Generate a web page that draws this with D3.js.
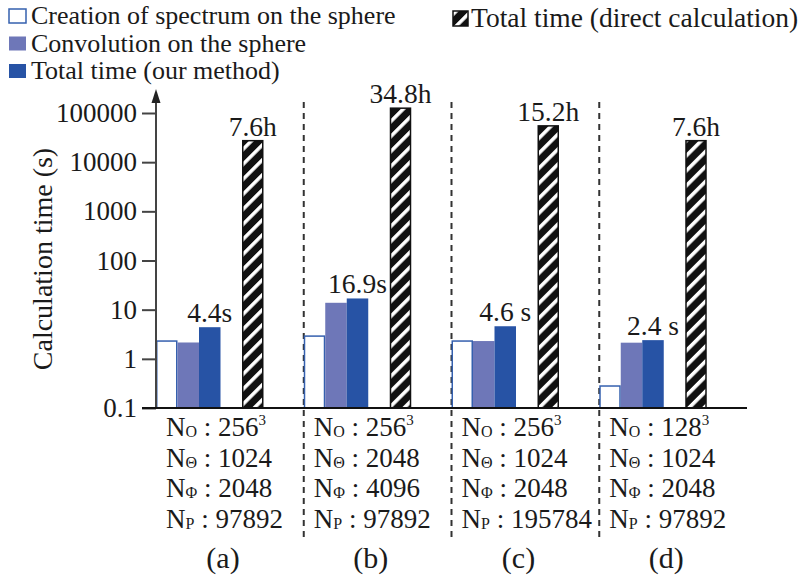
<!DOCTYPE html>
<html>
<head>
<meta charset="utf-8">
<script src="https://d3js.org/d3.v7.min.js"></script>
<style>
  body { margin: 0; background: #fff; }
  text { font-family: "Liberation Serif", "DejaVu Serif", serif; fill: #1a1a1a; }
</style>
</head>
<body>
<script>
// data
var groups = ['(a)', '(b)', '(c)', '(d)'];
var creation = [2.3, 2.9, 2.3, 0.28];
var convolution = [2.15, 13.8, 2.3, 2.13];
var totalOurs = [4.4, 16.9, 4.6, 2.4];
var totalDirect = [27360, 125280, 54720, 27360];   // seconds (7.6h, 34.8h, 15.2h, 7.6h)
var oursLabels = ['4.4s', '16.9s', '4.6 s', '2.4 s'];
var directLabels = ['7.6h', '34.8h', '15.2h', '7.6h'];
var nO = ['256', '256', '256', '128'];
var nTheta = ['1024', '2048', '1024', '1024'];
var nPhi = ['2048', '4096', '2048', '2048'];
var nP = ['97892', '97892', '195784', '97892'];
var yTicks = [0.1, 1, 10, 100, 1000, 10000, 100000];
var legendLeft = ['Creation of spectrum on the sphere', 'Convolution on the sphere', 'Total time (our method)'];
var legendRight = 'Total time (direct calculation)';

var width = 805, height = 583;
var lavender = '#6e77b8', darkBlue = '#2753a5', edgeBlue = '#3560ae';

var svg = d3.select('body').append('svg')
    .attr('width', width)
    .attr('height', height);

// hatch pattern for the direct calculation bars
var defs = svg.append('defs');
var pat = defs.append('pattern')
    .attr('id', 'hatch')
    .attr('patternUnits', 'userSpaceOnUse')
    .attr('width', 10.6)
    .attr('height', 10.6)
    .attr('patternTransform', 'rotate(45)');
pat.append('rect').attr('width', 10.6).attr('height', 10.6).attr('fill', '#111');
pat.append('rect').attr('x', 0).attr('width', 3.6).attr('height', 10.6).attr('fill', '#fff');

var y = d3.scaleLog().domain([0.1, 100000]).range([408, 113]);
var x = d3.scaleBand().domain(groups).range([156, 747]).padding(0);
var slot = d3.scaleBand().domain([0, 1, 2, 3, 4]).range([0, 107.5]).padding(0);

// dashed separators between the groups
svg.append('g').selectAll('line')
    .data(groups.slice(1)).enter()
    .append('line')
    .attr('x1', function(d) { return x(d); })
    .attr('x2', function(d) { return x(d); })
    .attr('y1', 102).attr('y2', 540)
    .attr('stroke', '#333')
    .attr('stroke-width', 2)
    .attr('stroke-dasharray', '6,5');

// bars
var series = [
    { vals: creation, idx: 0, fill: '#fff', stroke: edgeBlue },
    { vals: convolution, idx: 1, fill: lavender, stroke: 'none' },
    { vals: totalOurs, idx: 2, fill: darkBlue, stroke: 'none' },
    { vals: totalDirect, idx: 4, fill: 'url(#hatch)', stroke: '#111' }
];
series.forEach(function(s) {
    svg.append('g').selectAll('rect')
        .data(s.vals).enter()
        .append('rect')
        .attr('x', function(d, i) { return x(groups[i]) + slot(s.idx) + (s.stroke !== 'none' ? 0.75 : 0); })
        .attr('y', function(d) { return y(d); })
        .attr('width', slot.bandwidth() - (s.stroke !== 'none' ? 1.5 : 0))
        .attr('height', function(d) { return 408 - y(d); })
        .attr('fill', s.fill)
        .attr('stroke', s.stroke)
        .attr('stroke-width', 1.5);
});

// value labels
svg.append('g').selectAll('text')
    .data(totalOurs).enter()
    .append('text')
    .attr('x', function(d, i) { return x(groups[i]) + slot(2) + slot.bandwidth() / 2; })
    .attr('y', function(d) { return y(d) - 5; })
    .attr('text-anchor', 'middle')
    .attr('font-size', 27.5)
    .text(function(d, i) { return oursLabels[i]; });

svg.append('g').selectAll('text')
    .data(totalDirect).enter()
    .append('text')
    .attr('x', function(d, i) { return x(groups[i]) + slot(4) + slot.bandwidth() / 2; })
    .attr('y', function(d) { return y(d) - 5; })
    .attr('text-anchor', 'middle')
    .attr('font-size', 27.5)
    .text(function(d, i) { return directLabels[i]; });

// y axis
var yAxis = svg.append('g')
    .attr('transform', 'translate(156,0)')
    .call(d3.axisLeft(y).tickValues(yTicks).tickSize(14).tickPadding(5)
        .tickFormat(function(d) { return String(d); }));
yAxis.select('.domain').remove();
yAxis.selectAll('.tick line').attr('stroke', '#444').attr('stroke-width', 2);
yAxis.selectAll('.tick text')
    .attr('font-size', 27)
    .attr('font-family', '"Liberation Serif", serif')
    .attr('fill', '#1a1a1a');

svg.append('line')
    .attr('x1', 156).attr('x2', 156)
    .attr('y1', 408).attr('y2', 100)
    .attr('stroke', '#444').attr('stroke-width', 2);
svg.append('path')
    .attr('d', 'M156,89 L151.5,103 L160.5,103 Z')
    .attr('fill', '#222');

// x axis base line
svg.append('line')
    .attr('x1', 142).attr('x2', 747)
    .attr('y1', 408).attr('y2', 408)
    .attr('stroke', '#111').attr('stroke-width', 2);

svg.append('text')
    .attr('transform', 'translate(52,259) rotate(-90)')
    .attr('text-anchor', 'middle')
    .attr('font-size', 28)
    .text('Calculation time (s)');

// parameter labels under each group
var rows = [
    { sub: 'O', vals: nO, sup: true },
    { sub: '\u0398', vals: nTheta, sup: false },
    { sub: '\u03A6', vals: nPhi, sup: false },
    { sub: 'P', vals: nP, sup: false }
];
rows.forEach(function(r, k) {
    var t = svg.append('g').selectAll('text')
        .data(r.vals).enter()
        .append('text')
        .attr('x', function(d, i) { return x(groups[i]) + 10; })
        .attr('y', 436 + k * 30.7)
        .attr('font-size', 27);
    t.append('tspan').text('N');
    t.append('tspan').attr('font-size', 16).attr('dy', 1).text(r.sub);
    t.append('tspan').attr('dy', -1).text(' : ');
    t.append('tspan').text(function(d) { return d; });
    if (r.sup) {
        t.append('tspan').attr('font-size', 15).attr('dy', -11).text('3');
    }
});

svg.append('g').selectAll('text')
    .data(groups).enter()
    .append('text')
    .attr('x', function(d) { return x(d) + 67; })
    .attr('y', 568)
    .attr('text-anchor', 'middle')
    .attr('font-size', 30)
    .text(function(d) { return d; });

// legends
var legFill = ['#fff', lavender, darkBlue];
var leg = svg.append('g').selectAll('g')
    .data(legendLeft).enter()
    .append('g')
    .attr('transform', function(d, i) { return 'translate(0,' + (i * 27.5) + ')'; });
leg.append('rect')
    .attr('x', 9).attr('y', 9)
    .attr('width', 17).attr('height', 14)
    .attr('fill', function(d, i) { return legFill[i]; })
    .attr('stroke', function(d, i) { return i === 0 ? edgeBlue : 'none'; })
    .attr('stroke-width', 1.5);
leg.append('text')
    .attr('x', 31).attr('y', 24)
    .attr('font-size', 26)
    .text(function(d) { return d; });

svg.append('rect')
    .attr('x', 453).attr('y', 11)
    .attr('width', 15).attr('height', 15)
    .attr('fill', 'url(#hatch)')
    .attr('stroke', '#111').attr('stroke-width', 1.5);
svg.append('text')
    .attr('x', 471).attr('y', 27)
    .attr('font-size', 27.5)
    .text(legendRight);
</script>
</body>
</html>
